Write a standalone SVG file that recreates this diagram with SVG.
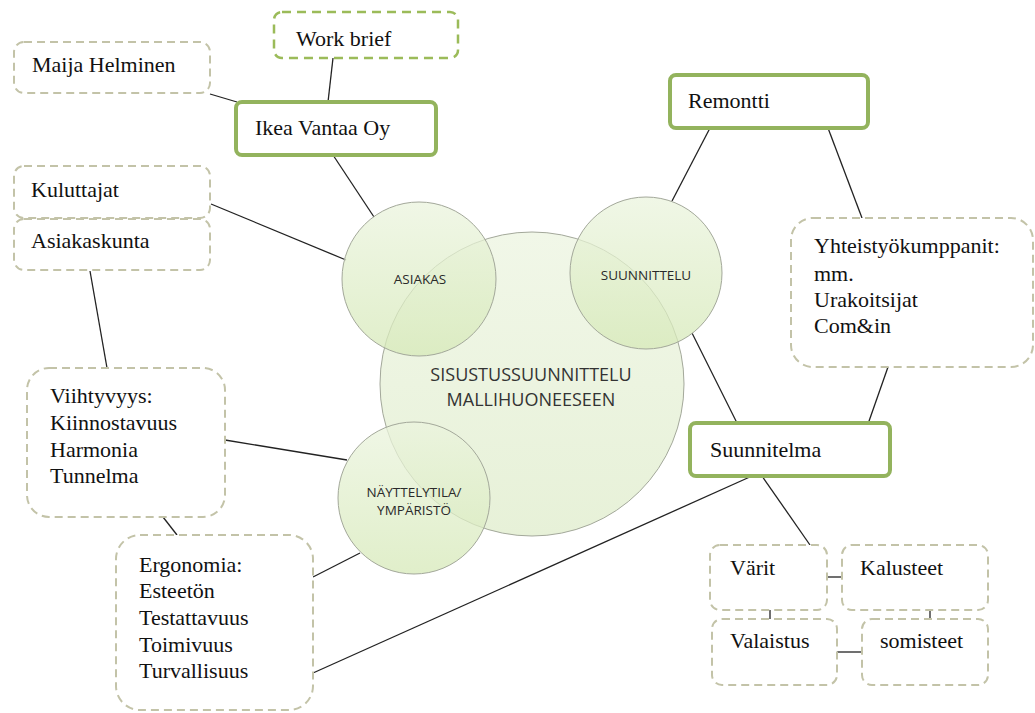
<svg xmlns="http://www.w3.org/2000/svg" width="1035" height="713" viewBox="0 0 1035 713">
<style>
.dash{fill:#fff;stroke:#c3c3a8;stroke-width:2;stroke-dasharray:8 5}
.solid{fill:#fff;stroke:#93b35d;stroke-width:4}
.wb{fill:#fff;stroke:#9bbb59;stroke-width:2.5;stroke-dasharray:9 6}
.t{font-family:"Liberation Serif",serif;font-size:22px;fill:#111}
.c{font-family:"Open Sans",sans-serif;font-size:13.5px;fill:#2a2a2a;text-anchor:middle}
.big{font-family:"Open Sans",sans-serif;font-size:18px;fill:#333;text-anchor:middle}
.circ{stroke:#a3a89a;stroke-width:1}
#conn line{stroke:#222;stroke-width:1.3}
</style>
<defs>
<linearGradient id="gBig" x1="0" y1="0" x2="0" y2="1">
<stop offset="0" stop-color="#f1f7e8"/><stop offset="1" stop-color="#e7f1d8"/>
</linearGradient>
<linearGradient id="gSmall" x1="0" y1="0" x2="0" y2="1">
<stop offset="0" stop-color="#ebf4de"/><stop offset="1" stop-color="#d6e9b8"/>
</linearGradient>
</defs>
<rect width="1035" height="713" fill="#fff"/>
<g id="conn">
<line x1="333" y1="58" x2="328" y2="102"/>
<line x1="210" y1="94" x2="237" y2="102"/>
<line x1="333" y1="155" x2="374" y2="217"/>
<line x1="211" y1="204" x2="346" y2="260"/>
<line x1="90" y1="271" x2="107" y2="368"/>
<line x1="225" y1="440" x2="347" y2="460"/>
<line x1="163" y1="517" x2="177" y2="535"/>
<line x1="313" y1="577" x2="360" y2="553"/>
<line x1="313" y1="673" x2="752" y2="476"/>
<line x1="710" y1="128" x2="672" y2="201"/>
<line x1="828" y1="128" x2="862" y2="218"/>
<line x1="888" y1="367" x2="868" y2="424"/>
<line x1="692" y1="333" x2="737" y2="423"/>
<line x1="762" y1="476" x2="810" y2="545"/>
<line x1="827" y1="577" x2="843" y2="577"/>
<line x1="770" y1="610" x2="770" y2="619"/>
<line x1="930" y1="610" x2="930" y2="619"/>
<line x1="837" y1="652" x2="862" y2="652"/>
</g>
<g id="center">
<circle class="circ" cx="532" cy="384" r="152" fill="url(#gBig)"/>
</g>
<g id="asiakas">
<circle class="circ" cx="419" cy="279" r="77" fill="url(#gSmall)" fill-opacity="0.75"/>
<text class="c" x="420" y="284">ASIAKAS</text>
</g>
<g id="suunnittelu">
<circle class="circ" cx="646" cy="273" r="76" fill="url(#gSmall)" fill-opacity="0.75"/>
<text class="c" x="646" y="280">SUUNNITTELU</text>
</g>
<g id="nayttelytila">
<circle class="circ" cx="414" cy="498" r="76" fill="url(#gSmall)" fill-opacity="0.75"/>
<text class="c" x="414" y="497">NÄYTTELYTILA/</text>
<text class="c" x="414" y="515">YMPÄRISTÖ</text>
</g>
<g id="center-label">
<text class="big" x="531" y="381">SISUSTUSSUUNNITTELU</text>
<text class="big" x="531" y="406">MALLIHUONEESEEN</text>
</g>
<g id="workbrief">
<rect class="wb" x="274" y="12" width="184" height="46" rx="8"/>
<text class="t" x="296" y="46">Work brief</text>
</g>
<g id="maija">
<rect class="dash" x="14" y="42" width="196" height="51" rx="10"/>
<text class="t" x="32" y="72">Maija Helminen</text>
</g>
<g id="ikea">
<rect class="solid" x="236" y="102" width="200" height="53" rx="6"/>
<text class="t" x="255" y="135">Ikea Vantaa Oy</text>
</g>
<g id="kuluttajat">
<rect class="dash" x="14" y="166" width="196" height="52" rx="10"/>
<text class="t" x="31" y="197">Kuluttajat</text>
</g>
<g id="asiakaskunta">
<rect class="dash" x="14" y="219" width="196" height="51" rx="10"/>
<text class="t" x="31" y="248">Asiakaskunta</text>
</g>
<g id="remontti">
<rect class="solid" x="670" y="75" width="198" height="53" rx="6"/>
<text class="t" x="688" y="108">Remontti</text>
</g>
<g id="yhteistyo">
<rect class="dash" x="791" y="218" width="242" height="149" rx="22"/>
<text class="t" x="814" y="253">Yhteistyökumppanit:</text>
<text class="t" x="814" y="281">mm.</text>
<text class="t" x="814" y="307">Urakoitsijat</text>
<text class="t" x="814" y="333">Com&amp;in</text>
</g>
<g id="suunnitelma">
<rect class="solid" x="690" y="423" width="200" height="53" rx="6"/>
<text class="t" x="710" y="457">Suunnitelma</text>
</g>
<g id="viihtyvyys">
<rect class="dash" x="27" y="368" width="198" height="149" rx="22"/>
<text class="t" x="50" y="403">Viihtyvyys:</text>
<text class="t" x="50" y="430">Kiinnostavuus</text>
<text class="t" x="50" y="457">Harmonia</text>
<text class="t" x="50" y="483">Tunnelma</text>
</g>
<g id="ergonomia">
<rect class="dash" x="116" y="535" width="197" height="175" rx="24"/>
<text class="t" x="139" y="572">Ergonomia:</text>
<text class="t" x="139" y="598">Esteetön</text>
<text class="t" x="139" y="625">Testattavuus</text>
<text class="t" x="139" y="652">Toimivuus</text>
<text class="t" x="139" y="678">Turvallisuus</text>
</g>
<g id="varit">
<rect class="dash" x="710" y="545" width="117" height="65" rx="10"/>
<text class="t" x="730" y="575">Värit</text>
</g>
<g id="kalusteet">
<rect class="dash" x="842" y="545" width="146" height="65" rx="10"/>
<text class="t" x="860" y="575">Kalusteet</text>
</g>
<g id="valaistus">
<rect class="dash" x="712" y="619" width="125" height="66" rx="10"/>
<text class="t" x="730" y="648">Valaistus</text>
</g>
<g id="somisteet">
<rect class="dash" x="862" y="619" width="126" height="66" rx="10"/>
<text class="t" x="880" y="648">somisteet</text>
</g>
</svg>
